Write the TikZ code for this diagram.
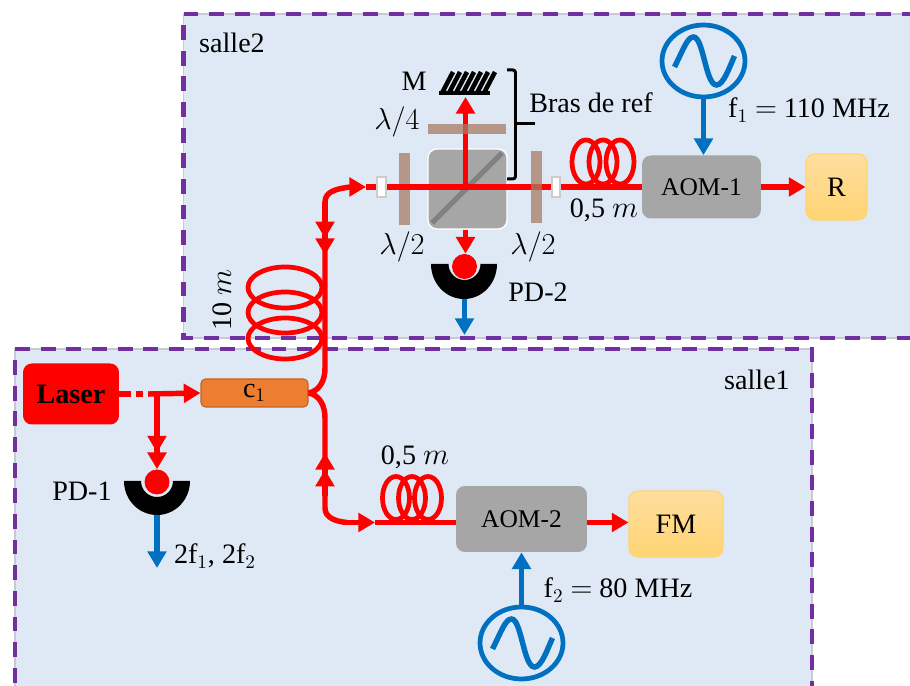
\documentclass[tikz,border=0pt]{standalone}
\usepackage{fontspec}
\setmainfont{Liberation Serif}
\usetikzlibrary{arrows.meta,shapes.geometric}
\definecolor{roombg}{RGB}{222,233,245}
\definecolor{roompurple}{RGB}{112,48,160}
\definecolor{roomgray}{RGB}{200,202,210}
\definecolor{rfblue}{RGB}{0,112,192}
\definecolor{aomgray}{RGB}{166,166,166}
\definecolor{plateC}{RGB}{166,124,100}
\definecolor{couplerC}{RGB}{237,125,49}
\definecolor{outA}{RGB}{255,222,158}
\definecolor{outB}{RGB}{255,212,115}
\newcommand{\txtfont}{\fontsize{16}{19}\selectfont}
\newcommand{\aomfont}{\fontsize{14.5}{17}\selectfont}
\tikzset{
  roomedge/.style={draw=roomgray,line width=0.6pt},
  roomdash/.style={draw=roompurple,line width=2.3pt,dash pattern=on 8.5pt off 6.1pt},
  fiber/.style={draw=red,line width=3.1pt},
  coil/.style={draw=red,line width=2.7pt},
  rfline/.style={draw=rfblue,line width=3.1pt},
  plate/.style={fill=plateC,opacity=0.75,inner sep=0pt},
  aombox/.style={fill=aomgray,rounded corners=5pt,inner sep=0pt,font=\aomfont},
  outbox/.style={top color=outA,bottom color=outB,draw=outB,line width=0.6pt,rounded corners=5pt,inner sep=0pt},
  fibcon/.style={draw=black!20,fill=white,line width=1.2pt,inner sep=0pt,minimum width=0.17cm,minimum height=0.39cm},
  source/.style={draw=rfblue,line width=2.7pt,ellipse,inner sep=0pt,minimum width=1.66cm,minimum height=1.44cm},
  diode/.style={circle,fill=red,inner sep=0pt,minimum size=0.5cm}
}
\begin{document}
\begin{tikzpicture}[x=0.02cm,y=0.02cm,>={Triangle[length=9.5pt,width=10.5pt]},every node/.style={font=\txtfont}]
\useasboundingbox (0,0) rectangle (910,686);

% Rooms
\fill[roombg] (183.5,348) rectangle (910,672);
\draw[roomedge] (910,672) -- (183.5,672) -- (183.5,348) -- (910,348);
\draw[roomdash] (183.5,672) -- (910,672);
\draw[roomdash] (183.5,661) -- (183.5,348) -- (910,348);
\fill[roombg] (15,0) rectangle (812,337);
\draw[roomedge] (15,0) -- (15,337) -- (812,337) -- (812,0);
\draw[roomdash] (15,337) -- (812,337) -- (812,0);
\draw[roomdash] (15,326) -- (15,0);
\node (salleB) at (232,643) {salle2};
\node (salleA) at (757,306) {salle1};

% Source and coupler
\node[fill=red,rounded corners=5pt,inner sep=0pt,minimum width=1.92cm,minimum height=1.22cm,font=\txtfont\bfseries] (laser) at (71,292) {Laser};
\node[fill=couplerC,draw=couplerC!80!black,line width=0.6pt,rounded corners=2.5pt,inner sep=0pt,minimum width=2.14cm,minimum height=0.56cm] (c1) at (254.5,293) {c$_1$};

% Cube and plates under the beam
\node[fill=aomgray,draw=white,line width=0.8pt,rounded corners=5pt,inner sep=0pt,minimum width=1.58cm,minimum height=1.6cm] (bs) at (467.5,497) {};
\draw[black!50,line width=3pt] (432,463) -- (502,533);
\node[plate,minimum width=0.22cm,minimum height=1.44cm] (plateA) at (404.5,497) {};

% Blocks
\node[aombox,minimum width=2.38cm,minimum height=1.26cm] (aomA) at (701.5,499) {AOM-1};
\node[aombox,minimum width=2.62cm,minimum height=1.32cm] (aomB) at (521.5,167) {AOM-2};
\node[outbox,minimum width=1.22cm,minimum height=1.32cm] (outR) at (836.5,499) {R};
\node[outbox,minimum width=1.88cm,minimum height=1.32cm] (outFM) at (676,162) {FM};
\node[source] (srcA) at (703.5,625) {};
\node[source] (srcB) at (521.5,43) {};
\node[diode] (pdA) at (157,204) {};
\node[diode] (pdB) at (464.5,419.5) {};

% Fibre points
\coordinate (tapA) at (149,292);
\coordinate (tapB) at (157,292);
\coordinate (upA) at (325,318);
\coordinate (upB) at (325,484);
\coordinate (upC) at (350,499);
\coordinate (upD) at (366,499);
\coordinate (lowA) at (325,268);
\coordinate (lowB) at (325,178);
\coordinate (lowC) at (347,163.5);
\coordinate (lowD) at (375,163.5);
\coordinate (beam) at (465.5,499);
\coordinate (mirrorC) at (465.5,589);

% Coils
\foreach \cx in {586,603,620} \draw[coil] (\cx,524) ellipse [x radius=14,y radius=22];
\foreach \cx in {396,412,428} \draw[coil] (\cx,188) ellipse [x radius=13.5,y radius=21.5];
\foreach \cy in {398.5,373.5,347.5} \draw[coil] (285,\cy) ellipse [x radius=37,y radius=20.5];

% Fibres
\draw[fiber,dash pattern=on 6.8pt off 2.8pt on 4pt off 2.8pt] (laser.east) -- (tapA);
\draw[fiber,->] (tapA) -- (c1.west);
\draw[fiber,->>] (tapB) -- (pdA.north);
\draw[fiber] (c1.east) to[out=10,in=-90] (upA) -- (upB) to[out=90,in=188] (upC);
\draw[fiber,->>] (upB) -- (325,431);
\draw[fiber,->] (upC) -- (upD);
\draw[fiber] (upD) -- (aomA.west);
\draw[fiber] (c1.east) to[out=-10,in=90] (lowA) -- (lowB) to[out=-90,in=175] (lowC);
\draw[fiber,->>] (325,190) -- (325,233);
\draw[fiber,->] (lowC) -- (lowD);
\draw[fiber] (lowD) -- (aomB.west |- lowD);
\draw[fiber,->] (aomB.east |- lowD) -- (outFM.west |- lowD);
\draw[fiber,->] (aomA.east) -- (outR.west);
\draw[fiber,->] (beam) -- (mirrorC);
\draw[fiber,->] (beam |- bs.south) -- (beam |- pdB.north);

% Plates over the beam and fibre ends
\node[plate,minimum width=0.22cm,minimum height=1.44cm] (plateB) at (536,499) {};
\node[plate,minimum width=1.56cm,minimum height=0.2cm] (plateC) at (467,557) {};
\node[fibcon] (conA) at (381.5,499) {};
\node[fibcon] (conB) at (556,499) {};

% Mirror
\draw[line width=2.6pt] (439,593) -- (490,593);
\foreach \hx in {442,449,...,484} \draw[line width=2.6pt] (\hx,593) -- (\hx+11,614);

% Detectors
\fill (124,205) arc [start angle=180,end angle=360,x radius=33,y radius=34] -- (173,205) arc [start angle=0,end angle=-180,radius=16] -- cycle;
\fill (431,422) arc [start angle=180,end angle=360,x radius=33,y radius=35] -- (480.5,422) arc [start angle=0,end angle=-180,radius=16] -- cycle;
\coordinate (pdAout) at (157,171);
\coordinate (pdBout) at (464.5,387);
\coordinate (pdAend) at (157,118);
\coordinate (pdBend) at (464.5,351);
\draw[rfline,->] (pdAout) -- (pdAend);
\draw[rfline,->] (pdBout) -- (pdBend);

% RF sources
\draw[rfline,->] (srcA.south) -- (srcA.south |- aomA.north);
\draw[rfline,->] (srcB.north) -- (srcB.north |- aomB.south);
\foreach \cx/\cy in {703.5/625,521.5/43}
  \draw[rfline] (\cx-29,\cy-6) .. controls (\cx-20,\cy+12) and (\cx-16,\cy+24) .. (\cx-10,\cy+24) .. controls (\cx,\cy+24) and (\cx+2,\cy-24) .. (\cx+13,\cy-24) .. controls (\cx+20,\cy-24) and (\cx+26,\cy-6) .. (\cx+31,\cy+5);

% Bracket
\draw[line width=1.7pt,rounded corners=1.5pt] (507,507) -- (515.5,507) -- (515.5,616) -- (507,616);
\draw[line width=1.7pt] (515.5,562) -- (535,562);

% Labels
\node (lblM) at (414,605) {M};
\node (lblBras) at (591,583) {Bras de ref};
\node (lblQ) at (397,564) {$\lambda/4$};
\node (lblHA) at (402,439) {$\lambda/2$};
\node (lblHB) at (533,439) {$\lambda/2$};
\node (lblFibA) at (604,476) {0,5 $m$};
\node (lblFibB) at (415,229) {0,5 $m$};
\node[rotate=90] (lblFibC) at (222,386) {10 $m$};
\node (lblPDB) at (538,394) {PD-2};
\node (lblPDA) at (82,195) {PD-1};
\node (lblDet) at (215,130) {2f$_1$, 2f$_2$};
\node (lblFA) at (809,576) {f$_1$ $=$ 110 MHz};
\node (lblFB) at (618,96) {f$_2$ $=$ 80 MHz};
\end{tikzpicture}
\end{document}
